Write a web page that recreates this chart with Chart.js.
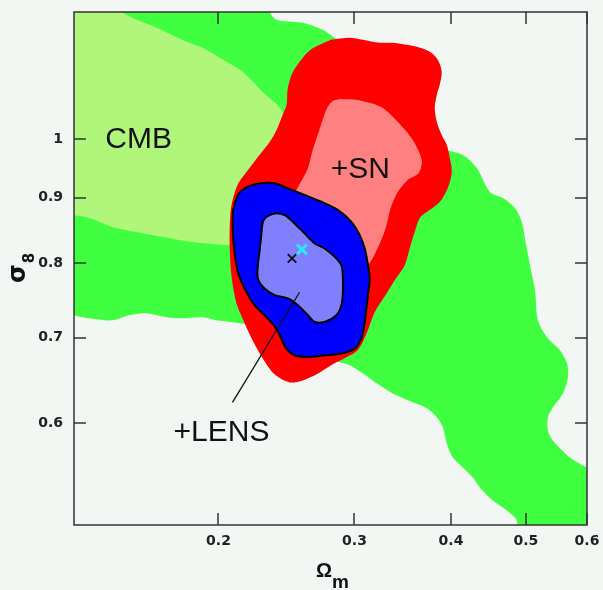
<!DOCTYPE html>
<html>
<head>
<meta charset="utf-8">
<script src="https://cdn.jsdelivr.net/npm/chart.js@4.4.1/dist/chart.umd.min.js"></script>
<style>
  html, body { margin: 0; padding: 0; background: #f3f7f3; }
  canvas { display: block; }
</style>
</head>
<body>
<canvas id="chart" width="603" height="590"></canvas>
<script>
// Joint constraints on (Omega_m, sigma_8): CMB alone, adding supernovae, adding lensing.
// Each contour is a list of [Omega_m, sigma_8] vertices.

const xTicks = [0.2, 0.3, 0.4, 0.5, 0.6];
const xTickLabels = ['0.2', '0.3', '0.4', '0.5', '0.6'];
const yTicks = [0.6, 0.7, 0.8, 0.9, 1];
const yTickLabels = ['0.6', '0.7', '0.8', '0.9', '1'];

// CMB, 95% region
const cmbOuter = [
  [0.1244, 1.284], [0.2329, 1.284], [0.2329, 1.2566], [0.2378, 1.2387], [0.257, 1.232],
  [0.2728, 1.2166], [0.2828, 1.1993], [0.2913, 1.1842], [0.3433, 1.1119], [0.3845, 0.9892],
  [0.395, 0.9804], [0.4144, 0.9716], [0.432, 0.9492], [0.4492, 0.9091], [0.4669, 0.8994],
  [0.4839, 0.8834], [0.4941, 0.8614], [0.4985, 0.837], [0.5061, 0.7972], [0.5138, 0.7622],
  [0.5183, 0.7221], [0.5324, 0.7005], [0.5535, 0.6842], [0.5652, 0.6684], [0.5669, 0.6518],
  [0.5585, 0.6332], [0.542, 0.6175], [0.534, 0.6067], [0.534, 0.5925], [0.542, 0.5819],
  [0.5703, 0.5645], [0.5999, 0.5545], [0.6237, 0.5494], [0.6237, 0.4862], [0.4883, 0.4862],
  [0.4868, 0.5039], [0.4725, 0.5131], [0.4532, 0.5224], [0.4359, 0.5349], [0.4269, 0.5445],
  [0.4144, 0.5545], [0.4022, 0.5645], [0.395, 0.5787], [0.3903, 0.5958], [0.3834, 0.6067],
  [0.3721, 0.6166], [0.3569, 0.6232], [0.3362, 0.6332], [0.3205, 0.6448], [0.3074, 0.6565],
  [0.2957, 0.666], [0.287, 0.6696], [0.2547, 0.6842], [0.2194, 0.7157], [0.2129, 0.7183],
  [0.2085, 0.7196], [0.1988, 0.7221], [0.1907, 0.7261], [0.1796, 0.7248], [0.1712, 0.7261],
  [0.1613, 0.7313], [0.1533, 0.7287], [0.1458, 0.7221], [0.1361, 0.7248], [0.1294, 0.7287],
  [0.1244, 0.73]
];

// CMB, 68% region
const cmbInner = [
  [0.1244, 1.284], [0.1488, 1.284], [0.1502, 1.2566], [0.1547, 1.2431], [0.1662, 1.2209],
  [0.1818, 1.1906], [0.1907, 1.1778], [0.2048, 1.1486], [0.2149, 1.1281], [0.2281, 1.0882],
  [0.2421, 1.0498], [0.2509, 0.9804], [0.2436, 0.8961], [0.2194, 0.8339], [0.2085, 0.8264],
  [0.2048, 0.8264], [0.1851, 0.8309], [0.1642, 0.8415], [0.1458, 0.8538], [0.1361, 0.8676],
  [0.1294, 0.8722], [0.1244, 0.8738]
];

// CMB + SN, 95% region
const snOuter = [
  [0.2794, 1.1949], [0.2957, 1.1993], [0.3074, 1.1949], [0.3234, 1.1885], [0.3362, 1.1885],
  [0.3612, 1.18], [0.3755, 1.1694], [0.3845, 1.1527], [0.3891, 1.1281], [0.3868, 1.102],
  [0.3834, 1.0823], [0.3811, 1.0574], [0.3834, 1.0311], [0.3891, 1.0072], [0.395, 0.9892],
  [0.3986, 0.9664], [0.401, 0.9424], [0.3962, 0.9156], [0.3868, 0.8929], [0.3721, 0.8769],
  [0.3644, 0.8676], [0.359, 0.846], [0.3537, 0.822], [0.3485, 0.7972], [0.3382, 0.776],
  [0.3303, 0.7581], [0.3186, 0.7326], [0.3111, 0.7054], [0.3028, 0.6842], [0.2913, 0.6745],
  [0.2811, 0.6672], [0.268, 0.6553], [0.257, 0.6482], [0.2472, 0.6459], [0.2364, 0.6553],
  [0.2281, 0.6745], [0.2214, 0.6966], [0.2162, 0.7183], [0.211, 0.7446], [0.2085, 0.7719],
  [0.2073, 0.7972], [0.2067, 0.8339], [0.2073, 0.8769], [0.2091, 0.901], [0.2123, 0.9239],
  [0.2194, 0.9492], [0.226, 0.9716], [0.2329, 0.9946], [0.2378, 1.0163], [0.2421, 1.0441],
  [0.245, 1.0631], [0.2457, 1.0921], [0.2487, 1.122], [0.2547, 1.1486], [0.2632, 1.1736]
];

// CMB + SN, 68% region
const snInner = [
  [0.287, 1.0746], [0.3028, 1.0726], [0.3244, 1.0593], [0.3433, 1.0274], [0.3569, 0.9982],
  [0.3666, 0.9629], [0.3633, 0.9407], [0.3516, 0.9289], [0.3413, 0.9091], [0.3342, 0.8834],
  [0.3293, 0.8522], [0.3215, 0.822], [0.3121, 0.7972], [0.287, 0.769], [0.2547, 0.7901],
  [0.2436, 0.8567], [0.2517, 0.9091], [0.2547, 0.9222], [0.2609, 0.9475], [0.2648, 0.9804],
  [0.2696, 1.0127], [0.2761, 1.0555], [0.2811, 1.0707]
];

// CMB + SN + lensing, 95% region
const lensOuter = [
  [0.2087, 0.8774], [0.2119, 0.9042], [0.2183, 0.9178], [0.2272, 0.9234], [0.2364, 0.9234],
  [0.246, 0.9151], [0.2585, 0.9042], [0.2717, 0.8934], [0.2856, 0.8801], [0.2972, 0.8618],
  [0.3047, 0.8414], [0.3093, 0.8215], [0.3123, 0.7972], [0.3139, 0.7784], [0.3123, 0.7554],
  [0.3108, 0.7375], [0.3093, 0.7199], [0.3062, 0.6988], [0.3001, 0.6863], [0.2885, 0.6802],
  [0.2744, 0.6781], [0.2611, 0.676], [0.2509, 0.6781], [0.2448, 0.6863], [0.2412, 0.6988],
  [0.2376, 0.7114], [0.2317, 0.7243], [0.2227, 0.7419], [0.2162, 0.7645], [0.2119, 0.7877],
  [0.2098, 0.8165], [0.2087, 0.8464]
];

// CMB + SN + lensing, 68% region
const lensInner = [
  [0.2306, 0.8696], [0.2364, 0.8749], [0.2436, 0.8722], [0.2509, 0.8593], [0.2585, 0.844],
  [0.2664, 0.8289], [0.2744, 0.8215], [0.2828, 0.8092], [0.2885, 0.7972], [0.2898, 0.7784],
  [0.2898, 0.7599], [0.2885, 0.7419], [0.2842, 0.7287], [0.2744, 0.7199], [0.2664, 0.7199],
  [0.2611, 0.7287], [0.2534, 0.7419], [0.246, 0.7509], [0.2364, 0.7554], [0.2294, 0.7645],
  [0.2249, 0.7784], [0.2249, 0.7972], [0.226, 0.8165], [0.2272, 0.8414], [0.2283, 0.8618]
];

const lensBest = [[0.249, 0.807]];
const fiducial = [[0.2565, 0.82]];
const lensPointer = [[0.2085, 0.6231], [0.2547, 0.7594]];

// Text placed inside the plot, anchored at [Omega_m, sigma_8] (left, baseline)
const regionLabels = [
  { text: 'CMB',   at: [0.1427, 0.9839] },
  { text: '+SN',   at: [0.2794, 0.9323] },
  { text: '+LENS', at: [0.1749, 0.5819] }
];

const toXY = pts => pts.map(([x, y]) => ({ x, y }));
const closed = pts => toXY(pts.concat([pts[0]]));

function region(pts, fillColor, order, outline) {
  return {
    data: closed(pts),
    fill: 'shape',
    backgroundColor: fillColor,
    borderColor: outline ? '#000000' : 'rgba(0,0,0,0)',
    borderWidth: outline ? 2 : 0,
    pointRadius: 0,
    tension: 0.3,
    order
  };
}

const framePlugin = {
  id: 'framePlugin',
  beforeDraw(chart) {
    const { ctx, width, height } = chart;
    ctx.save();
    ctx.fillStyle = '#f3f7f3';
    ctx.fillRect(0, 0, width, height);
    ctx.restore();
  },
  afterDatasetsDraw(chart) {
    const { ctx, chartArea: a, scales: { x, y } } = chart;
    ctx.save();

    // region names
    ctx.fillStyle = '#111111';
    ctx.font = '30px "Liberation Sans", Arial, sans-serif';
    ctx.textAlign = 'left';
    ctx.textBaseline = 'alphabetic';
    regionLabels.forEach(l => {
      ctx.fillText(l.text, x.getPixelForValue(l.at[0]), y.getPixelForValue(l.at[1]));
    });

    // box and inward tick marks on all four sides
    ctx.strokeStyle = '#333333';
    ctx.lineWidth = 1.5;
    ctx.strokeRect(a.left, a.top, a.right - a.left, a.bottom - a.top);
    const L = 12;
    ctx.beginPath();
    xTicks.forEach(v => {
      const px = Math.round(x.getPixelForValue(v));
      ctx.moveTo(px, a.bottom); ctx.lineTo(px, a.bottom - L);
      ctx.moveTo(px, a.top); ctx.lineTo(px, a.top + L);
    });
    yTicks.forEach(v => {
      const py = Math.round(y.getPixelForValue(v));
      ctx.moveTo(a.left, py); ctx.lineTo(a.left + L, py);
      ctx.moveTo(a.right, py); ctx.lineTo(a.right - L, py);
    });
    ctx.stroke();

    // x-axis title: Omega_m
    ctx.fillStyle = '#111111';
    const cx = (a.left + a.right) / 2;
    ctx.font = 'bold 20px "Liberation Sans", Arial, sans-serif';
    const wO = ctx.measureText('Ω').width;
    ctx.font = 'bold 19px "Liberation Sans", Arial, sans-serif';
    const wm = ctx.measureText('m').width;
    const sx = cx - (wO + wm) / 2 + 2;
    ctx.font = 'bold 20px "Liberation Sans", Arial, sans-serif';
    ctx.fillText('Ω', sx, a.bottom + 52);
    ctx.font = 'bold 19px "Liberation Sans", Arial, sans-serif';
    ctx.fillText('m', sx + wO, a.bottom + 63);

    // y-axis title: sigma_8, reading upwards
    const cy = (a.top + a.bottom) / 2;
    ctx.translate(25, cy);
    ctx.rotate(-Math.PI / 2);
    ctx.font = 'bold 24px "DejaVu Sans", sans-serif';
    const ws = ctx.measureText('σ').width;
    ctx.font = 'bold 15px "DejaVu Sans", sans-serif';
    const w8 = ctx.measureText('8').width;
    const st = -(ws + w8) / 2;
    ctx.font = 'bold 24px "DejaVu Sans", sans-serif';
    ctx.fillText('σ', st, 0);
    ctx.font = 'bold 15px "DejaVu Sans", sans-serif';
    ctx.fillText('8', st + ws + 1, 9);

    ctx.restore();
  }
};

new Chart(document.getElementById('chart'), {
  type: 'line',
  data: {
    datasets: [
      region(cmbOuter, '#40ff40', 10, false),
      region(cmbInner, '#b0f67a', 9, false),
      region(snOuter, '#ff0000', 8, false),
      region(snInner, '#ff8080', 7, false),
      region(lensOuter, '#0000ff', 6, true),
      region(lensInner, '#8080ff', 5, true),
      {
        data: toXY(lensPointer),
        borderColor: '#111111',
        borderWidth: 1.3,
        pointRadius: 0,
        fill: false,
        order: 4
      },
      {
        data: toXY(lensBest),
        showLine: false,
        pointStyle: 'crossRot',
        pointRadius: 6,
        pointBorderWidth: 2,
        pointBorderColor: '#111111',
        borderColor: '#111111',
        fill: false,
        order: 3
      },
      {
        data: toXY(fiducial),
        showLine: false,
        pointStyle: 'crossRot',
        pointRadius: 7,
        pointBorderWidth: 3,
        pointBorderColor: '#30e6f0',
        borderColor: '#30e6f0',
        fill: false,
        order: 2
      }
    ]
  },
  options: {
    responsive: false,
    animation: false,
    devicePixelRatio: 1,
    events: [],
    layout: { padding: { left: 0, right: 16, top: 12, bottom: 0 } },
    elements: { line: { capBezierPoints: false } },
    plugins: { legend: { display: false }, tooltip: { enabled: false } },
    scales: {
      x: {
        type: 'logarithmic',
        min: 0.13,
        max: 0.6,
        bounds: 'data',
        grid: { display: false, drawTicks: false },
        border: { display: false },
        afterFit: s => { s.height = 65; s.paddingLeft = 0; s.paddingRight = 0; },
        afterBuildTicks: s => { s.ticks = xTicks.map(v => ({ value: v })); },
        ticks: {
          autoSkip: false,
          maxRotation: 0,
          padding: 8,
          color: '#222222',
          font: { family: '"DejaVu Sans", sans-serif', size: 14, weight: 'bold' },
          callback: (v, i) => xTickLabels[i]
        }
      },
      y: {
        type: 'logarithmic',
        min: 0.5,
        max: 1.256,
        bounds: 'data',
        grid: { display: false, drawTicks: false },
        border: { display: false },
        afterFit: s => { s.width = 74; s.paddingTop = 0; s.paddingBottom = 0; },
        afterBuildTicks: s => { s.ticks = yTicks.map(v => ({ value: v })); },
        ticks: {
          autoSkip: false,
          padding: 11,
          color: '#222222',
          font: { family: '"DejaVu Sans", sans-serif', size: 14, weight: 'bold' },
          callback: (v, i) => yTickLabels[i]
        }
      }
    }
  },
  plugins: [framePlugin]
});
</script>
</body>
</html>
